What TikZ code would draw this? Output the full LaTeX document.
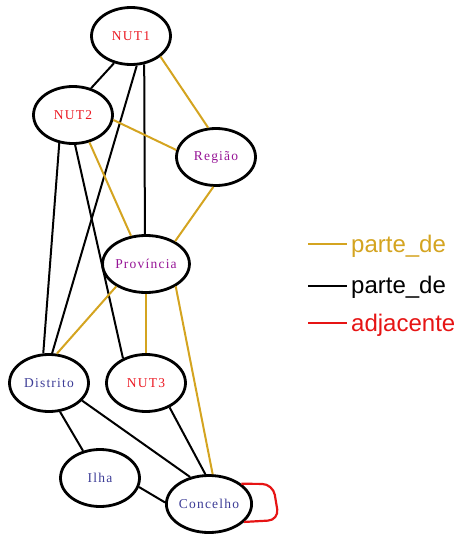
\documentclass[tikz,border=0pt]{standalone}
\usepackage{fontspec}
\setmainfont{Liberation Serif}
\newfontfamily\nodefont[LetterSpace=9]{Liberation Serif}
\newfontfamily\legfont{Liberation Sans}
\usetikzlibrary{shapes.geometric}
\definecolor{gold}{RGB}{212,164,32}
\definecolor{nred}{RGB}{235,25,35}
\definecolor{npurple}{RGB}{150,20,150}
\definecolor{nblue}{RGB}{60,60,150}
\definecolor{lred}{RGB}{230,20,20}
\begin{document}
\begin{tikzpicture}[x=1pt,y=-1pt,
  ent/.style={ellipse,draw,line width=2.8pt,minimum width=79pt,minimum height=57pt,inner sep=0pt,font=\nodefont\fontsize{13.5}{15}\selectfont},
  blk/.style={line width=2pt,black},
  gld/.style={line width=2pt,gold},
  adj/.style={line width=2.2pt,lred,rounded corners=11pt},
  leg/.style={line width=1.3pt},
  legtxt/.style={anchor=base west,inner sep=0pt,font=\legfont\fontsize{24}{28}\selectfont}]
\useasboundingbox (0,0) rectangle (460,535);
% nodes
\node[ent,text=nred] (n1) at (131,36) {NUT1};
\node[ent,text=nred] (n2) at (73,115) {NUT2};
\node[ent,text=npurple] (reg) at (216,157) {Região};
\node[ent,text=npurple] (prov) at (146,264) {Província};
\node[ent,text=nblue] (dis) at (49,383) {Distrito};
\node[ent,text=nred] (n3) at (146,383) {NUT3};
\node[ent,text=nblue] (ilha) at (100,478) {Ilha};
\node[ent,text=nblue] (con) at (209,504) {Concelho};
% black edges
\draw[blk] (n1.-122) -- (n2.56);
\draw[blk] (n1.-79) -- (dis.84);
\draw[blk] (n1.-65) -- (prov.92);
\draw[blk] (n2.-116) -- (dis.101);
\draw[blk] (n2.-86) -- (n3.133);
\draw[blk] (dis.-69) -- (ilha.122);
\draw[blk] (dis.-28) -- (con.125);
\draw[blk] (n3.-46) -- (con.97);
\draw[blk] (ilha.-13) -- (con.178);
% gold edges
\draw[gld] (n1.-35) -- (reg.105);
\draw[gld] (n2.-7) -- (reg.170);
\draw[gld] (n2.-59) -- (prov.118);
\draw[gld] (reg.-95) -- (prov.38);
\draw[gld] (prov.-143) -- (dis.75);
\draw[gld] (prov.south) -- (n3.north);
\draw[gld] (prov.-37) -- (con.83);
% adjacency loop
\coordinate (l1) at (273,484);
\coordinate (l2) at (279,520);
\draw[adj] (con.32) -- (l1) -- (l2) -- (con.-27);
% legend
\coordinate (a1) at (308,244); \coordinate (a2) at (347,244);
\coordinate (b1) at (308,286); \coordinate (b2) at (347,286);
\coordinate (c1) at (308,323); \coordinate (c2) at (347,323);
\draw[leg,gold] (a1) -- (a2);
\draw[leg,black] (b1) -- (b2);
\draw[leg,lred] (c1) -- (c2);
\node[legtxt,text=gold] (ta) at (351,252) {parte\_de};
\node[legtxt,text=black] (tb) at (351,293) {parte\_de};
\node[legtxt,text=lred] (tc) at (351,331) {adjacente};
\end{tikzpicture}
\end{document}
